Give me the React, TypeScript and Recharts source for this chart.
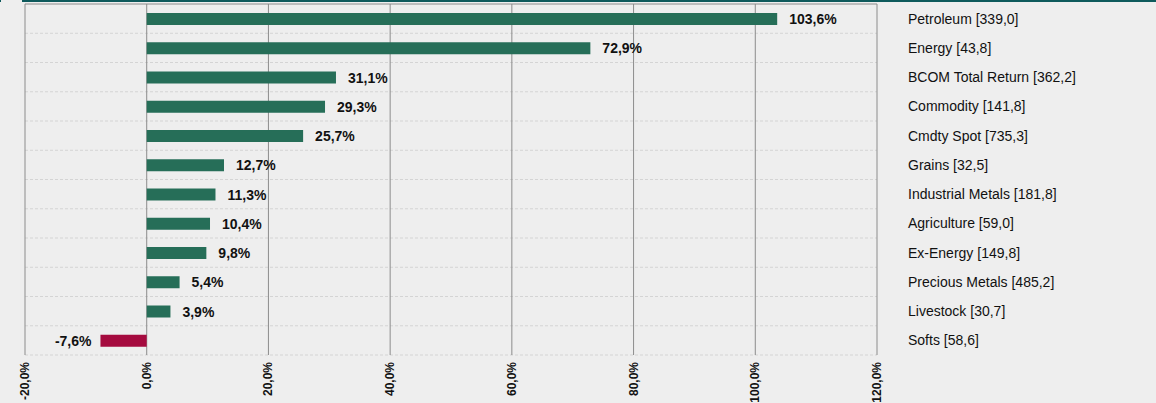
import React from 'react';
import { BarChart, Bar, XAxis, YAxis, CartesianGrid, Cell, LabelList } from 'recharts';

const categories = ['Petroleum', 'Energy', 'BCOM Total Return', 'Commodity', 'Cmdty Spot', 'Grains', 'Industrial Metals', 'Agriculture', 'Ex-Energy', 'Precious Metals', 'Livestock', 'Softs'];
const changes = [103.6, 72.9, 31.1, 29.3, 25.7, 12.7, 11.3, 10.4, 9.8, 5.4, 3.9, -7.6];
const levels = [339.0, 43.8, 362.2, 141.8, 735.3, 32.5, 181.8, 59.0, 149.8, 485.2, 30.7, 58.6];
const xTicks = [-20, 0, 20, 40, 60, 80, 100, 120];

const data = categories.map((c, i) => ({ name: c, value: changes[i], level: levels[i] }));

const FONT = '"Liberation Sans", Arial, sans-serif';
const GREEN = '#266E58';
const RED = '#A50B3F';
const comma = (v: number) => v.toFixed(1).replace('.', ',');

const XTick = (props: any) => {
  const { x, y, payload } = props;
  return (
    <g transform={`translate(${x},${y}) rotate(-90)`}>
      <text x={0} y={0} textAnchor="end" dominantBaseline="central" fontSize={12} fontWeight="bold" fill="#111" fontFamily={FONT}>
        {comma(payload.value) + '%'}
      </text>
    </g>
  );
};

const YTick = (props: any) => {
  const { x, y, payload, index } = props;
  const lvl = levels[categories.indexOf(payload.value)] ?? levels[index];
  return (
    <text x={x} y={y} textAnchor="start" dominantBaseline="central" fontSize={14} fill="#111" fontFamily={FONT}>
      {`${payload.value} [${comma(lvl)}]`}
    </text>
  );
};

const ValueLabel = (props: any) => {
  const { x, y, width, height, value } = props;
  const left = Math.min(x, x + width);
  const right = Math.max(x, x + width);
  const cy = y + height / 2;
  const neg = value < 0;
  return (
    <text x={neg ? left - 9 : right + 12} y={cy} textAnchor={neg ? 'end' : 'start'} dominantBaseline="central" fontSize={14} fontWeight="bold" fill="#111" fontFamily={FONT}>
      {comma(value) + '%'}
    </text>
  );
};

export default function App() {
  return (
    <div style={{ position: 'absolute', left: 0, top: 0, width: 1156, height: 403, background: '#EEEEEE', overflow: 'hidden' }}>
      <div style={{ position: 'absolute', left: 22, right: 0, top: 0, height: 2, background: '#0E5A5C' }} />
      <div style={{ position: 'absolute', left: 0, width: 1, top: 0, height: 2, background: '#0E5A5C' }} />
      <BarChart width={1156} height={403} data={data} layout="vertical" margin={{ top: 4, right: 0, bottom: 0, left: 25 }} barSize={12}>
        <CartesianGrid
          horizontal={true}
          vertical={false}
          stroke="#D4D4D4"
          strokeDasharray="3 2"
          horizontalCoordinatesGenerator={({ offset }: any) =>
            categories.map((_, i) => offset.top + ((i + 1) * offset.height) / categories.length)
          }
        />
        <CartesianGrid
          horizontal={true}
          vertical={true}
          stroke="#8C8C8C"
          horizontalCoordinatesGenerator={({ offset }: any) => [offset.top]}
        />
        <XAxis type="number" domain={[-20, 120]} ticks={xTicks} axisLine={false} tickLine={false} tickSize={0} tickMargin={7} height={48} tick={<XTick />} interval={0} />
        <YAxis type="category" dataKey="name" orientation="right" width={279} axisLine={false} tickLine={false} tickSize={0} tickMargin={31} tick={<YTick />} interval={0} />
        <Bar dataKey="value" isAnimationActive={false}>
          {data.map((d, i) => (
            <Cell key={i} fill={d.value < 0 ? RED : GREEN} />
          ))}
          <LabelList dataKey="value" content={<ValueLabel />} />
        </Bar>
      </BarChart>
    </div>
  );
}
